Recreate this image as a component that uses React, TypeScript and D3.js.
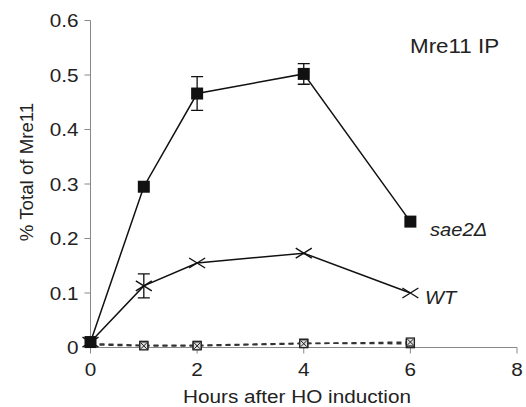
import React, { useEffect, useRef } from 'react';
import * as d3 from 'd3';

const hours = [0, 1, 2, 4, 6];
const sae2Values = [0.01, 0.295, 0.466, 0.502, 0.231];
const sae2Err = [0, 0, 0.031, 0.019, 0];
const wtValues = [0.01, 0.113, 0.155, 0.173, 0.1];
const wtErr = [0, 0.022, 0, 0, 0];
const ctrlA = [0.007, 0.004, 0.004, 0.008, 0.007];
const ctrlB = [0.005, 0.003, 0.003, 0.007, 0.01];
const xTicks = [0, 2, 4, 6, 8];
const yTicks = [0, 0.1, 0.2, 0.3, 0.4, 0.5, 0.6];

const W = 526;
const H = 407;
const FONT = 'Liberation Sans, Arial, sans-serif';
const STRETCH = 1.12; // the scan is a little wider than tall

export default function App() {
  const svgRef = useRef<SVGSVGElement>(null);

  useEffect(() => {
    const svg = d3.select(svgRef.current);
    svg.selectAll('*').remove();

    const x = d3.scaleLinear().domain([0, 8]).range([90.5, 517]);
    const y = d3.scaleLinear().domain([0, 0.6]).range([347.5, 20.5]);
    const axisColor = '#888';

    const label = (tx: number, ty: number, txt: string, size: number, anchor = 'start', italic = false) =>
      svg.append('text')
        .attr('transform', `translate(${tx},${ty}) scale(${STRETCH},1)`)
        .attr('text-anchor', anchor)
        .attr('font-family', FONT).attr('font-size', size)
        .attr('font-style', italic ? 'italic' : 'normal')
        .attr('fill', '#222')
        .text(txt);

    // y axis
    svg.append('line').attr('x1', x(0)).attr('x2', x(0)).attr('y1', y(0)).attr('y2', y(0.6)).attr('stroke', axisColor);
    yTicks.forEach(t => {
      svg.append('line').attr('x1', x(0) - 6).attr('x2', x(0)).attr('y1', y(t)).attr('y2', y(t)).attr('stroke', axisColor);
      label(x(0) - 12, y(t) + 6.8, t === 0 ? '0' : d3.format('.1f')(t), 18.5, 'end');
    });

    // x axis
    svg.append('line').attr('x1', x(0)).attr('x2', x(8)).attr('y1', y(0)).attr('y2', y(0)).attr('stroke', axisColor);
    xTicks.forEach(t => {
      svg.append('line').attr('x1', x(t)).attr('x2', x(t)).attr('y1', y(0)).attr('y2', y(0) + 6).attr('stroke', axisColor);
      label(x(t), y(0) + 28, String(t), 18.5, 'middle');
    });

    label(297, 403, 'Hours after HO induction', 18.5, 'middle');

    svg.append('text')
      .attr('transform', 'translate(33,172) rotate(-90)')
      .attr('text-anchor', 'middle')
      .attr('font-family', FONT).attr('font-size', 18.7).attr('fill', '#222')
      .text('% Total of Mre11');

    const line = d3.line<number>().x((_, i) => x(hours[i])).y(d => y(d));

    // control series (dashed)
    [ctrlA, ctrlB].forEach(vals => {
      svg.append('path').attr('d', line(vals)).attr('fill', 'none')
        .attr('stroke', '#333').attr('stroke-width', 1.6).attr('stroke-dasharray', '5,4');
      vals.forEach((v, i) => {
        if (i === 0) return;
        const cx = x(hours[i]);
        const cy = y(v);
        svg.append('rect').attr('x', cx - 4).attr('y', cy - 4).attr('width', 8).attr('height', 8)
          .attr('fill', '#ddd').attr('stroke', '#222').attr('stroke-width', 1.3);
        svg.append('path').attr('d', `M${cx - 3},${cy - 3}L${cx + 3},${cy + 3}M${cx + 3},${cy - 3}L${cx - 3},${cy + 3}`)
          .attr('stroke', '#222').attr('stroke-width', 1);
      });
    });

    // error bars
    const errBars = (vals: number[], errs: number[]) => {
      vals.forEach((v, i) => {
        if (!errs[i]) return;
        const cx = x(hours[i]);
        const top = y(v + errs[i]);
        const bot = y(v - errs[i]);
        svg.append('path')
          .attr('d', `M${cx},${top}V${bot}M${cx - 6},${top}H${cx + 6}M${cx - 6},${bot}H${cx + 6}`)
          .attr('stroke', '#111').attr('stroke-width', 1.3).attr('fill', 'none');
      });
    };

    // WT
    svg.append('path').attr('d', line(wtValues)).attr('fill', 'none').attr('stroke', '#111').attr('stroke-width', 1.5);
    errBars(wtValues, wtErr);
    wtValues.forEach((v, i) => {
      const cx = x(hours[i]);
      const cy = y(v);
      svg.append('path')
        .attr('d', `M${cx - 8},${cy - 5}L${cx + 8},${cy + 5}M${cx + 8},${cy - 5}L${cx - 8},${cy + 5}`)
        .attr('stroke', '#111').attr('stroke-width', 1.4);
    });

    // sae2
    svg.append('path').attr('d', line(sae2Values)).attr('fill', 'none').attr('stroke', '#111').attr('stroke-width', 1.5);
    errBars(sae2Values, sae2Err);
    sae2Values.forEach((v, i) => {
      const cx = x(hours[i]);
      const cy = y(v);
      svg.append('rect').attr('x', cx - 6).attr('y', cy - 6).attr('width', 12).attr('height', 12).attr('fill', '#111');
    });

    label(430, 236, 'sae2Δ', 18, 'start', true);
    label(425, 304, 'WT', 18, 'start', true);
    label(410, 53, 'Mre11 IP', 20);
  }, []);

  return (
    <svg ref={svgRef} width={W} height={H} style={{ position: 'absolute', left: 0, top: 0, background: '#fff' }} />
  );
}
